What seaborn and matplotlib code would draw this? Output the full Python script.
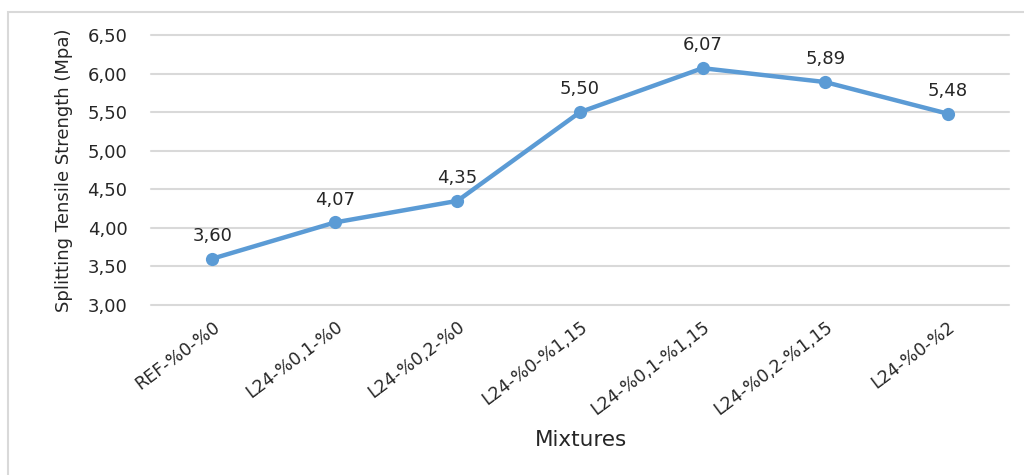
import matplotlib
matplotlib.use("Agg")
import matplotlib.pyplot as plt
from matplotlib.patches import Rectangle
import seaborn as sns
import pandas as pd

mixtures = ["REF-%0-%0", "L24-%0,1-%0", "L24-%0,2-%0", "L24-%0-%1,15",
            "L24-%0,1-%1,15", "L24-%0,2-%1,15", "L24-%0-%2"]
strength = [3.60, 4.07, 4.35, 5.50, 6.07, 5.89, 5.48]
y_ticks = [3.00, 3.50, 4.00, 4.50, 5.00, 5.50, 6.00, 6.50]

df = pd.DataFrame({"pos": range(len(mixtures)), "mix": mixtures, "val": strength})

sns.set_style("white")
plt.rcParams["font.family"] = ["DejaVu Sans"]

W, H = 1024, 475
fig = plt.figure(figsize=(W / 100, H / 100), dpi=100)
ax = fig.add_axes([151 / W, 1 - 305 / H, (1009 - 151) / W, (305 - 35) / H])

blue = "#5B9BD5"
ink = "#262626"
sns.lineplot(data=df, x="pos", y="val", ax=ax, color=blue, linewidth=3.2,
             marker="o", markersize=9.5, markeredgewidth=0, legend=False)

def fmt(v):
    return f"{v:.2f}".replace(".", ",")

for x, v in zip(df["pos"], df["val"]):
    ax.annotate(fmt(v), (x, v), xytext=(0, 10), textcoords="offset points",
                ha="center", va="bottom", fontsize=13, color=ink)

ax.set_xlim(-0.5, len(mixtures) - 0.5)
ax.set_ylim(3.0, 6.5)
ax.set_yticks(y_ticks)
ax.set_yticklabels([fmt(t) for t in y_ticks], fontsize=13, color=ink)
ax.set_xticks(range(len(mixtures)))
ax.set_xticklabels(mixtures, rotation=37, ha="right", rotation_mode="anchor",
                   fontsize=12.5, color=ink)
ax.tick_params(axis="y", length=0, pad=17)
ax.tick_params(axis="x", length=0, pad=9)

ax.grid(axis="y", color="#D9D9D9", linewidth=1.5)
for gl in ax.get_ygridlines():
    gl.set_clip_on(False)
ax.set_axisbelow(True)
for s in ax.spines.values():
    s.set_visible(False)

ax.set_xlabel("Mixtures", fontsize=15.5, color=ink)
ax.set_ylabel("Splitting Tensile Strength (Mpa)", fontsize=13, color=ink)
ax.xaxis.set_label_coords((581 - 151) / (1009 - 151), -(430 - 305) / (305 - 35))
ax.yaxis.set_label_coords(-(151 - 73) / (1009 - 151), 0.5)

fig.patches.append(Rectangle((8 / W, -0.2), 1.5, 1 - 12 / H + 0.2,
                             transform=fig.transFigure, fill=False,
                             edgecolor="#D9D9D9", linewidth=1.5))

fig.savefig("out.png", dpi=100, facecolor="white")
